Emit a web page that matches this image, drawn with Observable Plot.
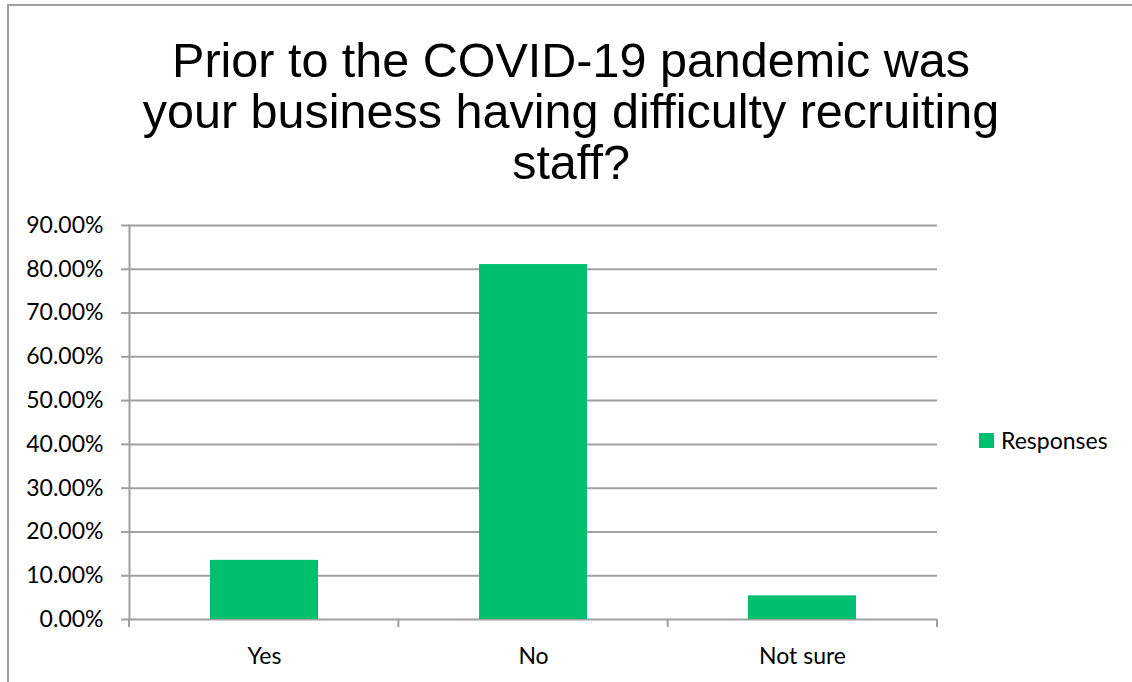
<!DOCTYPE html>
<html>
<head>
<meta charset="utf-8">
<script src="https://cdn.jsdelivr.net/npm/d3@7"></script>
<script src="https://cdn.jsdelivr.net/npm/@observablehq/plot@0.6"></script>
<style>
  html, body { margin: 0; padding: 0; background: #fff; }
  #wrap { position: relative; width: 1132px; height: 682px; overflow: hidden; background: #fff; }
  #border { position: absolute; left: 7px; top: 4px; width: 1200px; height: 800px; border-left: 2px solid #a0a0a0; border-top: 2px solid #a0a0a0; box-sizing: border-box; }
  #title { position: absolute; left: 8px; top: 35px; width: 1126px; text-align: center; font-family: "Liberation Sans", Arial, sans-serif; font-size: 48.5px; line-height: 51px; color: #000; z-index: 2; }
  #chart { position: absolute; left: 0; top: 0; z-index: 1; }
  #legend { position: absolute; left: 979px; top: 426px; font-family: Lato, sans-serif; font-size: 23px; color: #000; display: flex; align-items: center; z-index: 2; }
  #legend .sw { width: 15px; height: 15px; margin-right: 7px; }
</style>
</head>
<body>
<div id="wrap">
  <div id="border"></div>
  <div id="title"></div>
  <div id="chart"></div>
  <div id="legend"></div>
</div>
<script>
const titleLines = ["Prior to the COVID-19 pandemic was", "your business having difficulty recruiting", "staff?"];
const categories = ["Yes", "No", "Not sure"];
const responses = [0.1351, 0.8108, 0.0541];
const yTicks = [0, 0.1, 0.2, 0.3, 0.4, 0.5, 0.6, 0.7, 0.8, 0.9];
const seriesName = "Responses";
const barColor = "#00c06f";
const gridColor = "#a0a0a0";

const data = categories.map((c, i) => ({category: c, value: responses[i]}));

document.getElementById("title").innerHTML = titleLines.join("<br>");
document.getElementById("legend").innerHTML =
  `<div class="sw" style="background:${barColor}"></div><span>${seriesName}</span>`;

// category boundary tick marks below the x axis (Excel style)
function categoryTicks(index, scales, values, dimensions) {
  const {width, height, marginLeft, marginRight, marginBottom} = dimensions;
  const n = categories.length;
  const y0 = height - marginBottom;
  const g = d3.create("svg:g");
  d3.range(n + 1).forEach(i => {
    const x = marginLeft + i * (width - marginLeft - marginRight) / n;
    g.append("line").attr("x1", x).attr("x2", x).attr("y1", y0).attr("y2", y0 + 8)
      .attr("stroke", gridColor).attr("stroke-width", 2);
  });
  return g.node();
}

const chart = Plot.plot({
  width: 1132,
  height: 682,
  marginTop: 225,
  marginBottom: 63,
  marginLeft: 129,
  marginRight: 195,
  style: {fontFamily: "Lato, sans-serif", fontSize: "23px", color: "#000", background: "transparent"},
  x: {domain: categories, paddingInner: 0.6, paddingOuter: 0.3},
  y: {domain: [0, 0.9]},
  marks: [
    Plot.gridY(yTicks, {stroke: gridColor, strokeOpacity: 1, strokeWidth: 2}),
    Plot.barY(data, {x: "category", y: "value", fill: barColor}),
    Plot.frame({anchor: "left", stroke: gridColor, strokeOpacity: 1, strokeWidth: 2}),
    categoryTicks,
    Plot.axisY(yTicks, {tickFormat: d3.format(".2%"), tickSize: 8, tickPadding: 18, stroke: gridColor, strokeWidth: 2, fill: "#000", label: null, fontSize: 23}),
    Plot.axisX({tickSize: 0, tickPadding: 28, label: null, fill: "#000", fontSize: 23})
  ]
});
document.getElementById("chart").appendChild(chart);
</script>
</body>
</html>
